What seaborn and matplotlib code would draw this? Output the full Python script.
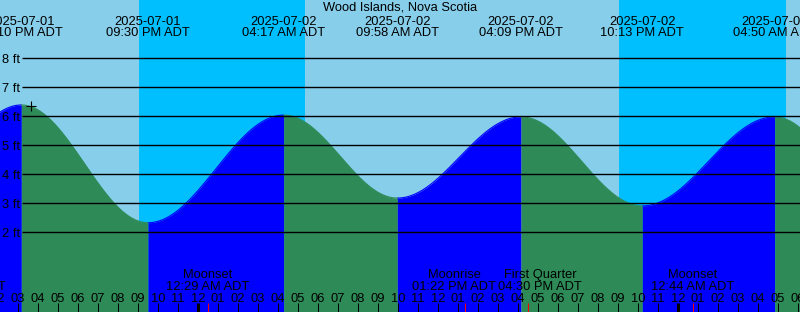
import numpy as np
import pandas as pd
import matplotlib
matplotlib.use("Agg")
import matplotlib.pyplot as plt
import seaborn as sns

# ---------------- data ----------------
title = "Wood Islands, Nova Scotia"
tide_times = ["2025-07-01 09:00", "2025-07-01 15:10", "2025-07-01 21:30",
              "2025-07-02 04:17", "2025-07-02 09:58", "2025-07-02 16:09",
              "2025-07-02 22:13", "2025-07-03 04:50", "2025-07-03 10:40"]
tide_heights = [3.0, 6.38, 2.32, 6.03, 3.17, 5.97, 2.90, 5.97, 2.6]
tide_labeled = [False, True, True, True, True, True, True, True, False]
night_starts = ["2025-07-01 21:03", "2025-07-02 21:03"]
night_ends = ["2025-07-02 05:21", "2025-07-03 05:24"]
moon_times = ["2025-07-01 12:18", "2025-07-02 00:29", "2025-07-02 13:22",
              "2025-07-02 16:30", "2025-07-03 00:44"]
moon_events = ["Moonrise", "Moonset", "Moonrise", "First Quarter", "Moonset"]
level_ticks = [2, 3, 4, 5, 6, 7, 8]
mark_time = "2025-07-01 15:38"
mark_height = 6.34
view_start = "2025-07-01 14:06"
view_hours = 40

# ---------------- layout (pixels) ----------------
W, H = 800, 312
PX_PER_H = 20.0
PX_PER_FT = 29.0
ZERO_FT_PX = 290.0
moon_nudge_px = [0, 0, -11, 12, 0]
FS = 9.3

DAY = "#87ceeb"
NIGHT = "#00bfff"
FLOOD = "#0000ff"
EBB = "#2e8b57"

origin = pd.Timestamp("2025-07-01 00:00")


def hrs(s):
    return (pd.Timestamp(s) - origin) / pd.Timedelta(hours=1)


def Y(p):
    return (ZERO_FT_PX - p) / PX_PER_FT


x0 = hrs(view_start)
x1 = x0 + view_hours


def X(p):
    return x0 + p / PX_PER_H


sns.set_theme(style="white")
plt.rcParams["font.family"] = ["Liberation Sans", "DejaVu Sans"]

fig = plt.figure(figsize=(W / 100, H / 100), dpi=100, facecolor=DAY)
ax = fig.add_axes([0, 0, 1, 1])
ax.set_xlim(x0, x1)
ax.set_ylim(Y(H), Y(0))

# day background and night bands
ax.axvspan(x0 - 1, x1 + 1, color=DAY, lw=0, zorder=0)
for s, e in zip(night_starts, night_ends):
    ax.axvspan(hrs(s), hrs(e), color=NIGHT, lw=0, zorder=0.5)

# tide curve between extremes
tt = [hrs(t) for t in tide_times]
rows = []
for i in range(len(tt) - 1):
    ta, tb = tt[i], tt[i + 1]
    ha, hb = tide_heights[i], tide_heights[i + 1]
    ts = np.linspace(ta, tb, 200)
    f = (ts - ta) / (tb - ta)
    hs = ha + (hb - ha) * (1 - np.cos(np.pi * f)) / 2
    phase = "flood" if hb > ha else "ebb"
    col = FLOOD if phase == "flood" else EBB
    ax.fill_between(ts, Y(H + 5), hs, color=col, lw=0, zorder=1)
    for a, b in zip(ts, hs):
        rows.append({"t": a, "h": b, "phase": phase, "seg": i})
curve = pd.DataFrame(rows)
sns.lineplot(data=curve, x="t", y="h", hue="phase", units="seg", estimator=None,
             palette={"flood": FLOOD, "ebb": EBB}, legend=False, lw=0.8,
             ax=ax, zorder=2)

# level lines and labels
ax.hlines(level_ticks, X(22), x1, color="black", lw=1.0, zorder=3)
for lv in level_ticks:
    ax.text(X(20), Y(ZERO_FT_PX - lv * PX_PER_FT + 4.7), f"{lv} ft",
            ha="right", va="baseline", fontsize=FS, color="black", zorder=4)

# title
ax.text(X(W / 2), Y(10), title, ha="center", va="baseline", fontsize=FS,
        color="black", zorder=4)

# tide event labels
for t, lab in zip(tide_times, tide_labeled):
    if not lab:
        continue
    ts_ = pd.Timestamp(t)
    ax.text(hrs(t), Y(25), ts_.strftime("%Y-%m-%d"), ha="center",
            va="baseline", fontsize=FS, color="black", zorder=4)
    ax.text(hrs(t), Y(36), ts_.strftime("%I:%M %p ADT"), ha="center",
            va="baseline", fontsize=FS, color="black", zorder=4)

# mark
ax.plot([hrs(mark_time)], [mark_height], marker="+", ms=7.2, mew=0.8,
        color="black", ls="none", zorder=4)

# hour ticks and labels
for h in range(int(np.floor(x0)), int(np.ceil(x1)) + 1):
    lw = 2.2 if h % 24 == 0 else 0.75
    ax.vlines(h, Y(303), Y(H + 2), color="black", lw=lw, zorder=4)
    ax.text(h, Y(301.5), f"{(h - 1) % 12 + 1:02d}", ha="center",
            va="baseline", fontsize=FS, color="black", zorder=4)

# moon events
for t, name, dx in zip(moon_times, moon_events, moon_nudge_px):
    xm = hrs(t)
    ax.vlines(xm, Y(303), Y(H + 2), color="red", lw=0.75, zorder=5)
    xt = xm + dx / PX_PER_H
    ax.text(xt, Y(278), name, ha="center", va="baseline", fontsize=FS,
            color="black", zorder=4)
    ax.text(xt, Y(290), pd.Timestamp(t).strftime("%I:%M %p ADT"),
            ha="center", va="baseline", fontsize=FS, color="black", zorder=4)

ax.set_axis_off()
fig.savefig("out.png", dpi=100, facecolor=DAY)
